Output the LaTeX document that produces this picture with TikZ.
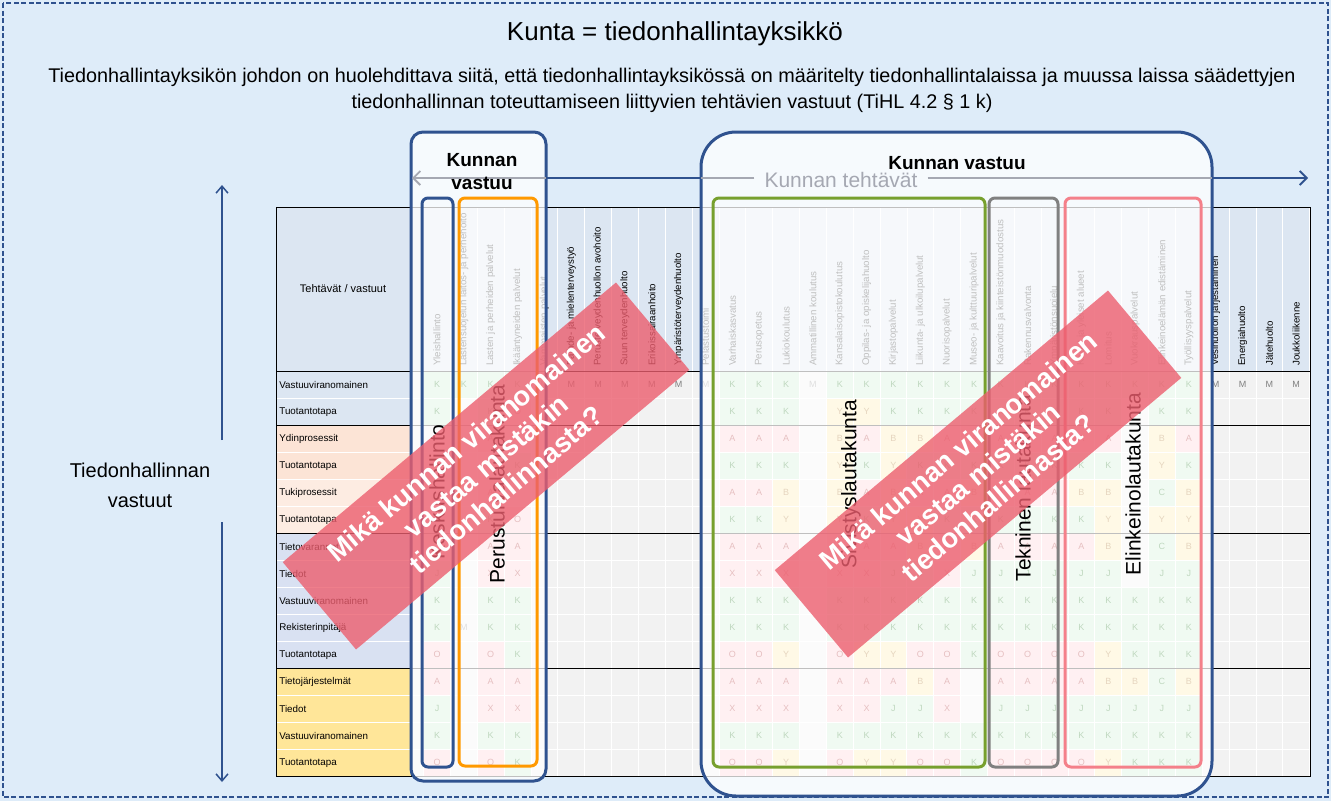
\documentclass[tikz,border=0pt]{standalone}
\usepackage{fontspec}
\setmainfont{Liberation Sans}
\usetikzlibrary{arrows.meta}
\definecolor{skyback}{RGB}{222,236,249}
\definecolor{navy}{RGB}{47,82,143}
\definecolor{headblue}{RGB}{220,230,242}
\definecolor{cellgray}{RGB}{242,242,242}
\definecolor{peach}{RGB}{252,228,214}
\definecolor{peachlight}{RGB}{253,236,226}
\definecolor{lavender}{RGB}{217,225,242}
\definecolor{straw}{RGB}{255,230,153}
\definecolor{goodfill}{RGB}{198,239,206}
\definecolor{goodtext}{RGB}{0,97,0}
\definecolor{badfill}{RGB}{255,199,206}
\definecolor{badtext}{RGB}{156,0,6}
\definecolor{midfill}{RGB}{255,235,156}
\definecolor{midtext}{RGB}{156,87,0}
\definecolor{mgray}{RGB}{128,128,128}
\definecolor{fadegray}{RGB}{165,168,178}
\definecolor{orangebox}{RGB}{255,153,0}
\definecolor{olivebox}{RGB}{119,160,46}
\definecolor{graybox}{RGB}{128,128,128}
\definecolor{pinkbox}{RGB}{244,128,138}
\definecolor{bannerred}{RGB}{236,94,110}
\newcommand{\cellw}{26.85}
\newcommand{\cellh}{27}

\begin{document}
\begin{tikzpicture}[x=1pt, y=-1pt,
    cell/.style={minimum width=\cellw pt, minimum height=\cellh pt, inner sep=0pt,
        draw=white, line width=0.8pt, font=\fontsize{9}{10}\selectfont},
    cellK/.style={cell, fill=goodfill, text=goodtext},
    cellJ/.style={cellK},
    cellC/.style={cellK},
    cellA/.style={cell, fill=badfill, text=badtext},
    cellO/.style={cellA},
    cellX/.style={cellA},
    cellB/.style={cell, fill=midfill, text=midtext},
    cellY/.style={cellB},
    cellM/.style={cell, draw=none, text=mgray},
    cell-/.style={cell, draw=none, text opacity=0},
    rowlab/.style={anchor=north west, minimum height=\cellh pt, text width=129pt,
        inner sep=3pt, align=left, draw=white, line width=0.8pt,
        font=\fontsize{9.8}{11}\selectfont},
    colhead/.style={rotate=90, anchor=west, inner sep=0pt, font=\fontsize{9.7}{10}\selectfont},
    vastuubox/.style={navy, line width=3pt, fill=white, fill opacity=0.75},
    lautakunta/.style={line width=3pt, rounded corners=6pt},
    boardname/.style={rotate=90, font=\fontsize{21}{24}\selectfont},
    askbanner/.style={rotate=40, fill=bannerred, fill opacity=0.8, text opacity=1,
        text=white, minimum width=435pt, minimum height=114pt, inner sep=0pt,
        align=center, font=\bfseries\fontsize{27.5}{31}\selectfont},
    vline/.style={navy, line width=1.5pt, -{Straight Barb[length=7pt, width=12pt]}},
    hline/.style={line width=1.8pt},
]
    \useasboundingbox (0,0) rectangle (1331,801);

    % Background
    \fill[skyback] (0,0) rectangle (1331,801);
    \draw[navy, line width=1.3pt, dash pattern=on 5pt off 2.5pt] (3,3) rectangle (1328,797);

    % Title
    \node[font=\fontsize{26}{29}\selectfont] (title) at (675,34) {Kunta = tiedonhallintayksikkö};
    \node[font=\fontsize{19.8}{26}\selectfont, align=center] (lead) at (672,90)
        {Tiedonhallintayksikön johdon on huolehdittava siitä, että tiedonhallintayksikössä on määritelty tiedonhallintalaissa ja muussa laissa säädettyjen\\
         tiedonhallinnan toteuttamiseen liittyvien tehtävien vastuut (TiHL 4.2 § 1 k)};

    % Table
    \fill[headblue] (276,207) rectangle (1310,371);
    \fill[cellgray] (411,371) rectangle (1310,776);
    \node[font=\fontsize{11}{12}\selectfont] (corner) at (343,289) {Tehtävät / vastuut};
    \foreach \r/\lab/\col in {1/Vastuuviranomainen/headblue, 2/Tuotantotapa/headblue,
        3/Ydinprosessit/peach, 4/Tuotantotapa/peach, 5/Tukiprosessit/peachlight,
        6/Tuotantotapa/peachlight, 7/Tietovarannot/lavender, 8/Tiedot/lavender,
        9/Vastuuviranomainen/lavender, 10/Rekisterinpitäjä/lavender, 11/Tuotantotapa/lavender,
        12/Tietojärjestelmät/straw, 13/Tiedot/straw, 14/Vastuuviranomainen/straw,
        15/Tuotantotapa/straw} {
        \node[rowlab, fill=\col] (lab\r) at (276,{371+(\r-1)*\cellh}) {\lab};
    }

    % Draw grid
    \foreach \k in {0,...,33} {
        \draw[white, line width=0.8pt] ({423.6+\k*\cellw},207) -- ({423.6+\k*\cellw},776);
    }
    \foreach \k in {1,...,14} {
        \draw[white, line width=0.8pt] (411,{371+\k*\cellh}) -- (1310,{371+\k*\cellh});
    }

    % Column heads
    \foreach \t [count=\c] in {Yleishallinto, Lastensuojelun laitos- ja perhehoito,
        Lasten ja perheiden palvelut, Ikääntyneiden palvelut, Vammaisten palvelut,
        Päihde- ja mielenterveystyö, Perusterveydenhuollon avohoito, Suun terveydenhuolto,
        Erikoissairaanhoito, Ympäristöterveydenhuolto, Pelastustoimi, Varhaiskasvatus,
        Perusopetus, Lukiokoulutus, Ammatillinen koulutus, Kansalaisopistokoulutus,
        Oppilas- ja opiskelijahuolto, Kirjastopalvelut, Liikunta- ja ulkoilupalvelut,
        Nuorisopalvelut, Museo- ja kulttuuripalvelut, Kaavoitus ja kiinteistönmuodostus,
        Rakennusvalvonta, Ympäristönsuojelu, Kadut ja yleiset alueet, Lomitus,
        Vuokrauspalvelut, Elinkeinoelämän edistäminen, Työllisyyspalvelut,
        Vesihuollon järjestäminen, Energiahuolto, Jätehuolto, Joukkoliikenne} {
        \node[colhead] (h\c) at ({437+(\c-1)*\cellw},366) {\t};
    }

    % Cells
    \foreach \r/\row in {
        1/{K,K,K,K,M,M,M,M,M,M,M,K,K,K,M,K,K,K,K,K,K,K,K,K,K,K,K,K,K,M,M,M,M},
        2/{K,-,K,O,-,-,-,-,-,-,-,K,K,K,-,Y,Y,K,K,K,K,K,K,K,K,K,-,K,K,-,-,-,-},
        3/{-,-,A,-,-,-,-,-,-,-,-,A,A,A,-,B,A,B,B,A,A,A,A,A,A,A,-,B,A,-,-,-,-},
        4/{-,-,-,K,-,-,-,-,-,-,-,K,K,K,-,Y,K,Y,K,K,K,K,K,K,K,K,-,Y,K,-,-,-,-},
        5/{-,-,A,-,-,-,-,-,-,-,-,A,A,B,-,B,A,B,A,A,B,A,A,A,B,B,-,C,B,-,-,-,-},
        6/{-,-,K,O,-,-,-,-,-,-,-,K,K,Y,-,Y,K,Y,Y,K,K,K,K,K,K,Y,-,Y,Y,-,-,-,-},
        7/{-,-,A,A,-,-,-,-,-,-,-,A,A,A,-,A,A,A,B,A,B,A,A,A,A,B,-,C,B,-,-,-,-},
        8/{J,-,X,X,-,-,-,-,-,-,-,X,X,X,-,X,X,J,J,X,J,J,J,J,J,J,-,J,J,-,-,-,-},
        9/{K,-,K,K,-,-,-,-,-,-,-,K,K,K,-,K,K,K,K,K,K,K,K,K,K,K,K,K,K,-,-,-,-},
        10/{K,M,K,K,-,-,-,-,-,-,-,K,K,K,-,K,K,K,K,K,K,K,K,K,K,K,K,K,K,-,-,-,-},
        11/{O,-,O,K,-,-,-,-,-,-,-,O,O,Y,-,O,Y,Y,O,O,K,O,O,O,O,Y,K,K,K,-,-,-,-},
        12/{A,-,A,A,-,-,-,-,-,-,-,A,A,A,-,A,A,A,B,A,-,A,A,A,A,B,B,C,B,-,-,-,-},
        13/{J,-,X,X,-,-,-,-,-,-,-,X,X,X,-,X,X,J,J,X,-,J,J,J,J,J,J,J,J,-,-,-,-},
        14/{K,-,K,K,-,-,-,-,-,-,-,K,K,K,-,K,K,K,K,K,K,K,K,K,K,K,K,K,K,-,-,-,-},
        15/{O,-,O,K,-,-,-,-,-,-,-,O,O,Y,-,O,Y,Y,O,O,K,O,O,O,O,Y,K,K,K,-,-,-,-}} {
        \foreach \v [count=\c] in \row {
            \node[cell\v] (c\r-\c) at ({437+(\c-1)*\cellw},{371+(\r-0.5)*\cellh}) {\v};
        }
    }

    % Borders
    \foreach \yy in {371,425,533,668} {
        \draw[line width=1pt] (276,\yy) -- (1310,\yy);
    }
    \draw[line width=1pt] (411,207) -- (411,776);
    \draw[line width=1pt] (276,207) rectangle (1310,776);

    % Side arrow
    \coordinate (vtop) at (222,185);
    \coordinate (vbot) at (222,782);
    \coordinate (vgapT) at (222,440);
    \coordinate (vgapB) at (222,522);
    \draw[vline] (vgapT) -- (vtop);
    \draw[vline] (vgapB) -- (vbot);
    \node[font=\fontsize{20}{30}\selectfont, align=center] (vlabel) at (140,485) {Tiedonhallinnan\\vastuut};

    % Kunnan vastuu boxes
    \draw[vastuubox, rounded corners=12pt] (411,132) rectangle (546,781);
    \draw[vastuubox, rounded corners=35pt] (701,132) rectangle (1212,796);

    % Kunnan tehtavat arrow
    \coordinate (hleft) at (412,178);
    \coordinate (hright) at (1308,178);
    \coordinate (gapA) at (546,178);
    \coordinate (gapB) at (701,178);
    \coordinate (gapC) at (1212,178);
    \node[text=fadegray, inner xsep=10pt, font=\fontsize{21}{24}\selectfont] (tehtavat) at (841,180) {Kunnan tehtävät};
    \draw[hline, fadegray, -{Straight Barb[length=7pt, width=14pt]}] (tehtavat.west |- hleft) -- (hleft);
    \draw[hline, fadegray] (tehtavat.east |- hright) -- (gapC);
    \draw[hline, navy] (gapA) -- (gapB);
    \draw[hline, navy, -{Straight Barb[length=7pt, width=14pt]}] (gapC) -- (hright);
    \node[font=\bfseries\fontsize{19}{23}\selectfont, align=center] (vastuuA) at (482,172) {Kunnan\\vastuu};
    \node[font=\bfseries\fontsize{19}{23}\selectfont] (vastuuB) at (957,163) {Kunnan vastuu};

    % Lautakunnat
    \draw[lautakunta, navy] (422,198) rectangle (453,767);
    \draw[lautakunta, orangebox] (459,198) rectangle (537,766);
    \draw[lautakunta, olivebox] (713,198) rectangle (985,767);
    \draw[lautakunta, graybox] (989,198) rectangle (1058,767);
    \draw[lautakunta, pinkbox] (1065,198) rectangle (1201,767);
    \node[boardname] (keskus) at (437,492) {Keskushallinto};
    \node[boardname] (perus) at (497,484) {Perusturvalautakunta};
    \node[boardname] (sivistys) at (851,484) {Sivistyslautakunta};
    \node[boardname] (tekninen) at (1023,488) {Tekninen lautakunta};
    \node[boardname] (elinkeino) at (1133,484) {Elinkeinolautakunta};

    % Questions
    \node[askbanner] (ask1) at (486,466) {Mikä kunnan viranomainen\\vastaa mistäkin\\tiedonhallinnasta?};
    \node[askbanner] (ask2) at (978,474) {Mikä kunnan viranomainen\\vastaa mistäkin\\tiedonhallinnasta?};
\end{tikzpicture}
\end{document}
